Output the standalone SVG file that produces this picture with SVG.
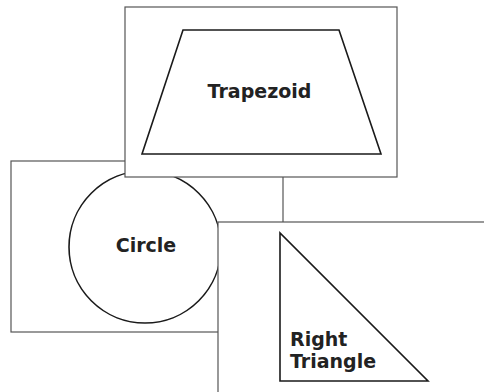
<svg xmlns="http://www.w3.org/2000/svg" width="484" height="392" viewBox="0 0 484 392">
<style>
.card{fill:#ffffff;stroke:#555555;stroke-width:1.2}
.shape{fill:#ffffff;stroke:#1a1a1a;stroke-width:1.6;stroke-linejoin:miter}
.lbl{font-family:"DejaVu Sans","Liberation Sans",sans-serif;font-weight:bold;font-size:19px;fill:#222222}
</style>
<rect width="484" height="392" fill="#ffffff"/>
<g id="circle-node">
<rect class="card" x="11" y="161" width="272" height="171"/>
<circle class="shape" cx="145" cy="247" r="76"/>
<text class="lbl" x="146" y="252" text-anchor="middle">Circle</text>
</g>
<g id="trapezoid-node">
<rect class="card" x="125" y="7" width="272" height="170"/>
<polygon class="shape" points="183,30 339,30 381,154 142,154"/>
<text class="lbl" x="259.5" y="98" text-anchor="middle">Trapezoid</text>
</g>
<g id="right-triangle-node">
<rect class="card" x="218" y="222" width="300" height="200"/>
<polygon class="shape" points="280,233 280,381 428,381"/>
<text class="lbl" x="290" y="346">Right</text>
<text class="lbl" x="290" y="368">Triangle</text>
</g>
<g id="connectors"></g>
</svg>
